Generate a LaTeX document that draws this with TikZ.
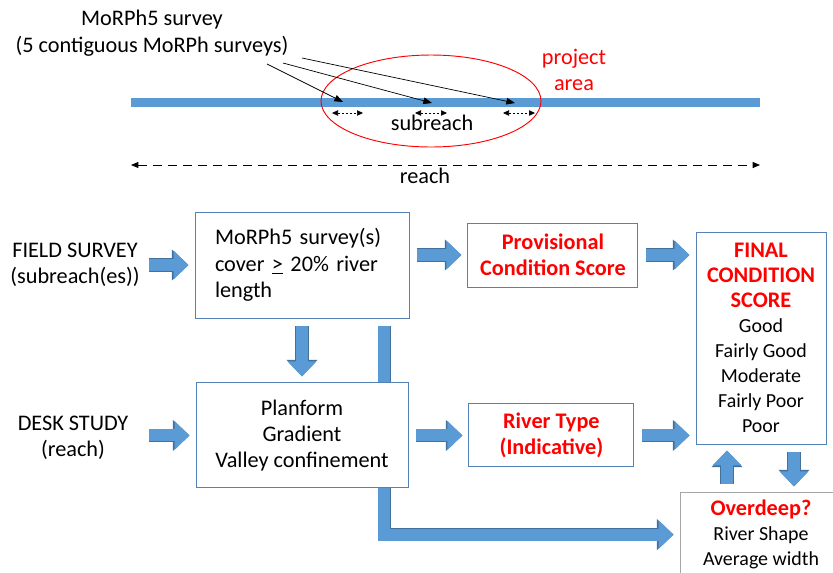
\documentclass[tikz,border=0pt]{standalone}
\usepackage{fontspec}
\setmainfont{Carlito}
\usetikzlibrary{arrows.meta, positioning, shapes.geometric, backgrounds}

\definecolor{flowblue}{RGB}{91,155,213}
\definecolor{flowedge}{RGB}{65,113,156}
\definecolor{boxedge}{RGB}{84,130,180}
\definecolor{boxgray}{RGB}{166,166,166}

\newcommand{\headline}[1]{\textcolor{red}{\fontsize{19}{23}\selectfont\bfseries #1}}

\begin{document}
\begin{tikzpicture}[
        font=\fontsize{19}{22.5}\selectfont,
        box/.style={rectangle, draw=boxedge, line width=0.8pt, fill=white, align=center, inner sep=0pt},
        hot/.style={text=red, font=\fontsize{19}{22}\selectfont\bfseries},
        score/.style={font=\fontsize{17}{21.3}\selectfont},
        lbl/.style={align=center, inner sep=0.05cm},
        flow/.style={draw=flowblue, line width=0.36cm, line join=miter, shorten <=0.24cm, shorten >=0.18cm,
            -{Triangle[width=0.84cm, length=0.45cm]},
            preaction={draw=flowedge, line width=0.4cm, -{Triangle[width=0.9cm, length=0.5cm]}}},
        ptr/.style={-{Triangle[width=0.2cm, length=0.26cm]}, line width=0.6pt},
        sub/.style={{Triangle[width=0.16cm, length=0.18cm]}-{Triangle[width=0.16cm, length=0.18cm]}, line width=0.6pt, dash pattern=on 0.07cm off 0.05cm},
        span/.style={{Triangle[width=0.18cm, length=0.22cm]}-{Triangle[width=0.18cm, length=0.22cm]}, line width=0.6pt, dash pattern=on 0.28cm off 0.17cm}
    ]
    \useasboundingbox (0,0) rectangle (24.99,-17.16);

    % River with project area
    \node[lbl, font=\fontsize{19}{23.5}\selectfont] (title) at (4.56,-1.0) {MoRPh5 survey\\(5 contiguous MoRPh surveys)};
    \coordinate (rs) at (3.93,-3.07);
    \coordinate (re) at (22.8,-3.07);
    \draw[flowblue, line width=0.29cm] (rs) -- (re);
    \node[ellipse, draw=red, line width=0.8pt, minimum width=6.6cm, minimum height=2.76cm] (proj) at (12.93,-3.03) {};
    \node[lbl, text=red] (projlbl) at (17.22,-2.1) {project\\area};

    % Pointers to the surveys
    \coordinate (p1) at (8.01,-1.92);
    \coordinate (p2) at (8.49,-1.89);
    \coordinate (p3) at (9.06,-1.74);
    \coordinate (t1) at (10.29,-3.06);
    \coordinate (t2) at (12.96,-3.09);
    \coordinate (t3) at (15.45,-3.09);
    \draw[ptr] (p1) -- (t1);
    \draw[ptr] (p2) -- (t2);
    \draw[ptr] (p3) -- (t3);

    % Subreaches and reach
    \coordinate (s1l) at (9.96,-3.39); \coordinate (s1r) at (10.89,-3.39);
    \coordinate (s2l) at (12.45,-3.39); \coordinate (s2r) at (13.41,-3.39);
    \coordinate (s3l) at (15.09,-3.39); \coordinate (s3r) at (16.05,-3.39);
    \draw[sub] (s1l) -- (s1r);
    \draw[sub] (s2l) -- (s2r);
    \draw[sub] (s3l) -- (s3r);
    \node (sublbl) at (12.96,-3.69) {subreach};
    \coordinate (rl) at (3.93,-4.95);
    \coordinate (rr) at (22.8,-4.95);
    \draw[span] (rl) -- (rr);
    \node (reachlbl) at (12.75,-5.28) {reach};

    % Survey and desk study boxes
    \node[lbl] (fs) at (2.25,-7.95) {FIELD SURVEY\\(subreach(es))};
    \node[lbl] (desk) at (2.19,-13.14) {DESK STUDY\\(reach)};
    \node[box, minimum width=6.42cm, minimum height=3.18cm, text width=5.22cm, align=left] (ms) at (9.06,-7.95)
        {MoRPh5 survey(s)\\cover \underline{>} 20\% river\\length};
    \node[box, below=1.92cm of ms, minimum width=6.36cm, minimum height=3.15cm] (dsk) {Planform\\Gradient\\Valley confinement};
    \node[box, hot, right=1.74cm of ms, yshift=0.3cm, minimum width=5.1cm, minimum height=1.92cm] (prov) {Provisional\\Condition Score};
    \node[box, hot, right=1.8cm of dsk, minimum width=4.95cm, minimum height=1.89cm] (rt) {River Type\\(Indicative)};

    % Scores
    \node[box, score, minimum width=3.9cm, minimum height=6.36cm] (final) at (22.83,-10.14)
        {\headline{FINAL}\\\headline{CONDITION}\\\headline{SCORE}\\Good\\Fairly Good\\Moderate\\Fairly Poor\\Poor};
    \node[box, score, draw=boxgray, below=1.44cm of final, minimum width=4.86cm, minimum height=2.5cm] (over)
        {\headline{Overdeep?}\\River Shape\\Average width};

    % Block arrows
    \draw[flow] (fs) -- (ms);
    \draw[flow] (fs.east |- dsk) -- (dsk);
    \draw[flow] (ms.south) -- (ms.south |- dsk.north);
    \draw[flow] (ms.east |- prov) -- (prov);
    \draw[flow] (prov) -- (prov -| final.west);
    \draw[flow] (dsk) -- (rt);
    \draw[flow] (rt) -- (rt -| final.west);
    \draw[flow] ([xshift=-1.02cm]final.south |- over.north) -- ([xshift=-1.02cm]final.south);
    \draw[flow] ([xshift=0.99cm]final.south) -- ([xshift=0.99cm]final.south |- over.north);
    \begin{scope}[on background layer]
        \draw[flow] ([xshift=-0.75cm]ms.south east) |- (over.west);
    \end{scope}

\end{tikzpicture}
\end{document}
